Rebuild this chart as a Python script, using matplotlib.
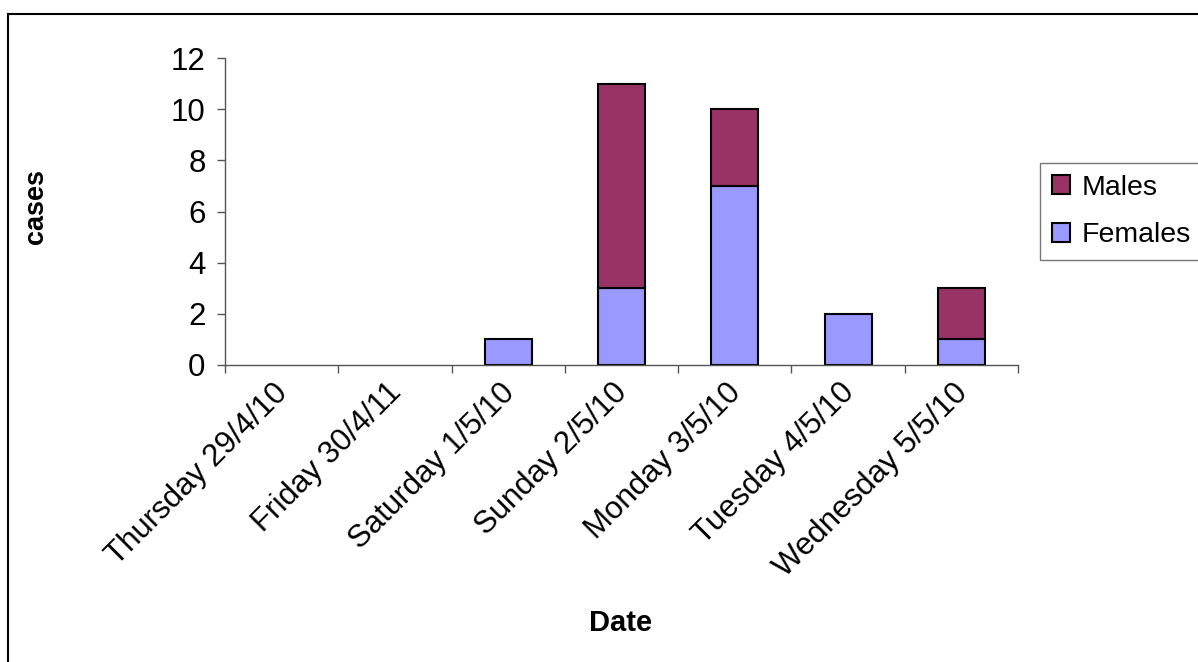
import matplotlib
matplotlib.use("Agg")
import matplotlib.pyplot as plt
import matplotlib.patches as mpatches
from matplotlib.transforms import ScaledTranslation
import numpy as np

plt.rcParams['font.family'] = ['Liberation Sans', 'DejaVu Sans']

categories = ["Thursday 29/4/10", "Friday 30/4/11", "Saturday 1/5/10", "Sunday 2/5/10",
              "Monday 3/5/10", "Tuesday 4/5/10", "Wednesday 5/5/10"]
females = [0, 0, 1, 3, 7, 2, 1]
males = [0, 0, 0, 8, 3, 0, 2]

FS = 20.5
FT = 22.5
W, H = 1198, 662
fig = plt.figure(figsize=(W / 100, H / 100), dpi=100)
ax = fig.add_axes([225 / W, 1 - 365 / H, (1018 - 225) / W, (365 - 58) / H])

x = np.arange(len(categories)) + 0.5
f = np.array(females, dtype=float)
m = np.array(males, dtype=float)
bw = 0.415
fm = f > 0
mm = m > 0
ax.bar(x[fm], f[fm], bw, color="#9999FF", edgecolor="black", linewidth=1.5, label="Females")
ax.bar(x[mm], m[mm], bw, bottom=f[mm], color="#993366", edgecolor="black", linewidth=1.5, label="Males")

ax.set_xlim(0, len(categories))
ax.set_ylim(0, 12)
ax.set_yticks(range(0, 13, 2))
ax.tick_params(axis='y', labelsize=FT, length=6, width=1, color="#555555", pad=8)
ax.set_xticks(np.arange(len(categories) + 1))
ax.set_xticklabels([])
ax.tick_params(axis='x', length=6, width=1, color="#555555")
ax.set_xticks(x, minor=True)
ax.set_xticklabels(categories, minor=True, rotation=45, ha="right", va="top",
                   rotation_mode="anchor", fontsize=FT)
ax.tick_params(axis='x', which='minor', length=0, pad=9)
off = ScaledTranslation(-9 / 100, 0, fig.dpi_scale_trans)
for lbl in ax.get_xticklabels(minor=True):
    lbl.set_transform(lbl.get_transform() + off)

for s in ["top", "right"]:
    ax.spines[s].set_visible(False)
for s in ["left", "bottom"]:
    ax.spines[s].set_color("#555555")
    ax.spines[s].set_linewidth(1)

fig.text(36 / W, 1 - 207 / H, "cases", rotation=90, ha="center", va="center",
         fontsize=19.5, fontweight="bold")
fig.text(621 / W, 1 - 623 / H, "Date", ha="center", va="center",
         fontsize=21, fontweight="bold")

handles, labels = ax.get_legend_handles_labels()
leg = fig.legend(handles[::-1], labels[::-1], loc="upper left",
                 bbox_to_anchor=(1040 / W, 1 - 163 / H), frameon=True, fancybox=False,
                 fontsize=FS, handlelength=0.65, handleheight=0.65, handletextpad=0.4,
                 labelspacing=0.75, borderpad=0.42, borderaxespad=0)
leg.get_frame().set_edgecolor("#555555")
leg.get_frame().set_linewidth(1)

border = mpatches.Rectangle((8 / W, -0.2), 2, 1 - 14 / H + 0.2, transform=fig.transFigure,
                            fill=False, edgecolor="black", linewidth=1.5)
fig.patches.append(border)

fig.savefig("out.png", dpi=100)
